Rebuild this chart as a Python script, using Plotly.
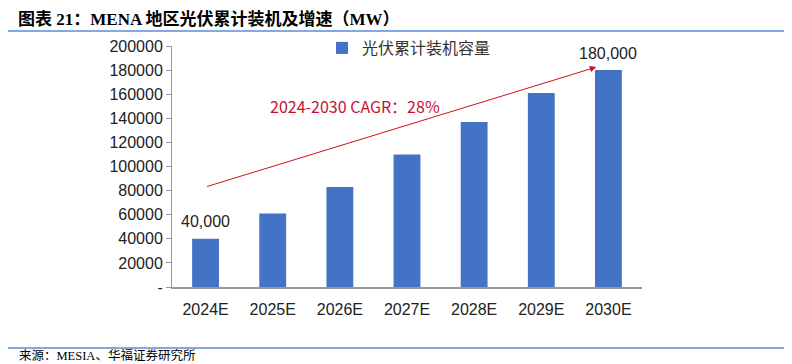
import plotly.graph_objects as go

categories = ["2024E", "2025E", "2026E", "2027E", "2028E", "2029E", "2030E"]
capacity = [40000, 61000, 83000, 110000, 137000, 161000, 180000]
bar_labels = ["40,000", "", "", "", "", "", "180,000"]
series_name = "光伏累计装机容量"
cagr_text = "2024-2030 CAGR：28%"
tick_vals = [0, 20000, 40000, 60000, 80000, 100000, 120000, 140000, 160000, 180000, 200000]
tick_text = ["-", "20000", "40000", "60000", "80000", "100000", "120000", "140000", "160000", "180000", "200000"]

# page body has an 8px margin; plot area in screen pixels: x 172..642, y 46..287
OFF = 8
W, H = 792 - OFF, 364 - OFF
X0, X1, Y0, Y1 = 172, 642, 287, 46
L, R, T, B = X0 - OFF, W - (X1 - OFF), Y1 - OFF, H - (Y0 - OFF)
PW, PH = X1 - X0, Y0 - Y1


def px_x(px):
    return (px - X0) / PW


def px_y(py):
    return (Y0 - py) / PH


fig = go.Figure()
fig.add_trace(go.Bar(
    x=categories, y=capacity, name=series_name,
    marker=dict(color="#4472C4", line=dict(width=0)),
    width=0.4,
))

for c, v, t in zip(categories, capacity, bar_labels):
    if t:
        fig.add_annotation(x=c, y=v, xref="x", yref="y", text=t, showarrow=False,
                           yshift=17, font=dict(family="Liberation Sans, Arial", size=16, color="#222222"))

fig.update_layout(
    width=W, height=H,
    margin=dict(l=L, r=R, t=T, b=B, autoexpand=False),
    paper_bgcolor="white", plot_bgcolor="white",
    showlegend=True,
    legend=dict(x=px_x(322), y=px_y(48), xanchor="left", yanchor="middle",
                font=dict(family="Noto Sans CJK SC", size=16, color="#333333"),
                bgcolor="rgba(0,0,0,0)", itemwidth=30),
    bargap=0.6,
    font=dict(family="Liberation Sans, Arial", size=15, color="#222222"),
)
fig.update_xaxes(
    type="category", showline=True, linecolor="#999999", linewidth=1.5,
    ticks="", tickfont=dict(size=16, color="#222222"), showgrid=False,
    ticklabelstandoff=7,
)
fig.update_yaxes(
    range=[0, 200000], tickvals=tick_vals, ticktext=tick_text,
    showline=True, linecolor="#999999", linewidth=1,
    ticks="outside", ticklen=5, tickcolor="#999999",
    showgrid=False, zeroline=False, tickfont=dict(size=16, color="#222222"),
)

# CAGR arrow
fig.add_annotation(
    x=5.82, y=182500, ax=0, ay=83000, xref="x", yref="y", axref="x", ayref="y",
    showarrow=True, arrowhead=2, arrowsize=1.3, arrowwidth=1, arrowcolor="#D0101A", text="",
)
fig.add_annotation(
    x=px_x(355), y=px_y(92), xref="paper", yref="paper", text=cagr_text, showarrow=False,
    font=dict(family="Noto Sans CJK SC", size=16, color="#C8102E"),
)

# Title, rules, source
fig.add_annotation(
    x=px_x(17), y=px_y(19), xref="paper", yref="paper",
    text="<b>图表 21：MENA 地区光伏累计装机及增速（MW）</b>",
    showarrow=False, xanchor="left", yanchor="middle", borderpad=0,
    font=dict(family="Liberation Serif, Noto Sans CJK SC", size=17, color="#000000"),
)
fig.add_shape(type="line", xref="paper", yref="paper",
              x0=px_x(0), x1=px_x(800), y0=px_y(31), y1=px_y(31),
              line=dict(color="#5B8DD6", width=1.5))
fig.add_shape(type="line", xref="paper", yref="paper",
              x0=px_x(0), x1=px_x(800), y0=px_y(348), y1=px_y(348),
              line=dict(color="#5B8DD6", width=1.5))
fig.add_annotation(
    x=px_x(17), y=px_y(356), xref="paper", yref="paper",
    text="来源：MESIA、华福证券研究所", showarrow=False, xanchor="left", yanchor="middle",
    font=dict(family="Liberation Serif, Noto Sans CJK SC", size=12.5, color="#000000"),
)

fig.write_html("out.html")
